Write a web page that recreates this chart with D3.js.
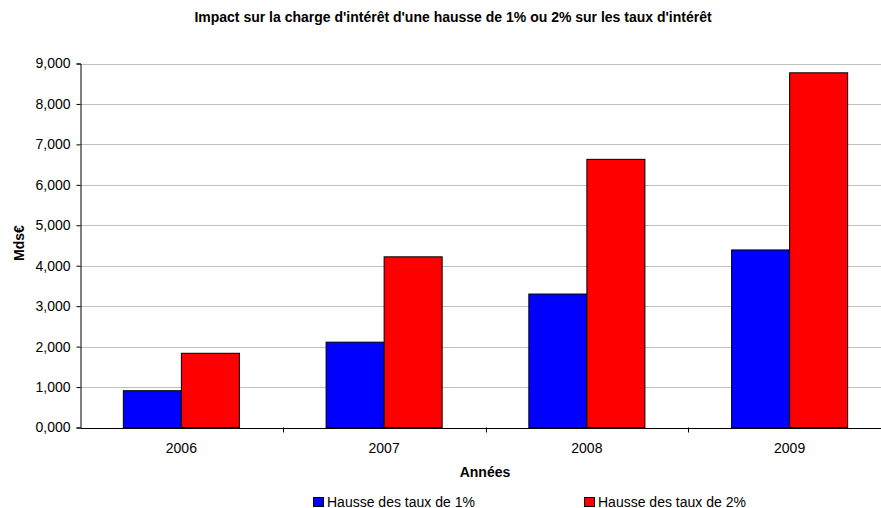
<!DOCTYPE html>
<html><head><meta charset="utf-8">
<script src="https://cdn.jsdelivr.net/npm/d3@7"></script>
<style>
body{margin:0;background:#fff;}
text{font-family:Arial,"Liberation Sans",sans-serif;}
</style></head>
<body><svg id="c" width="881" height="508"></svg>
<script>
const categories = ["2006","2007","2008","2009"];
const seriesNames = ["Hausse des taux de 1%","Hausse des taux de 2%"];
const hausse1 = [0.91, 2.11, 3.30, 4.39];
const hausse2 = [1.835, 4.22, 6.63, 8.77];
const yTicks = [0,1,2,3,4,5,6,7,8,9];
const colors = ["#0000ff","#ff0000"];

const svg = d3.select("#c");
const mLeft = 80, mRight = 891, mTop = 63.5, mBottom = 427.5;
const fr = d3.formatLocale({decimal:",", thousands:" ", grouping:[3], currency:["","€"]});
const fmt = fr.format(".3f");
const FONT = "Arial,'Liberation Sans',sans-serif";

const x = d3.scaleBand().domain(categories).range([mLeft, mRight]).padding(0);
const x1 = d3.scaleBand().domain(seriesNames).range([0, x.bandwidth()]).paddingInner(0).paddingOuter(0.747);
const y = d3.scaleLinear().domain([0, 9]).range([mBottom, mTop]);

// gridlines
svg.append("g").selectAll("line").data(yTicks.slice(1)).join("line")
  .attr("x1", mLeft).attr("x2", mRight)
  .attr("y1", d => Math.round(y(d)) + 0.5).attr("y2", d => Math.round(y(d)) + 0.5)
  .attr("stroke", "#c0c0c0").attr("stroke-width", 1);

// bars
const series = [hausse1, hausse2];
series.forEach((vals, si) => {
  svg.append("g").selectAll("rect").data(categories).join("rect")
    .attr("x", d => x(d) + x1(seriesNames[si]))
    .attr("y", (d, i) => y(vals[i]))
    .attr("width", x1.bandwidth())
    .attr("height", (d, i) => mBottom - y(vals[i]))
    .attr("fill", colors[si]).attr("stroke", "#000").attr("stroke-width", 1);
});

// y axis
const yAxis = d3.axisLeft(y).tickValues(yTicks).tickFormat(fmt).tickSize(4).tickPadding(6);
const gy = svg.append("g").attr("transform", `translate(${mLeft + 0.5},0)`).call(yAxis);
gy.attr("font-size", 14).attr("font-family", FONT);
gy.select(".domain").attr("stroke", "#000");
gy.selectAll(".tick line").attr("stroke", "#000");
gy.selectAll("text").attr("fill", "#000");

// x axis
const xAxis = d3.axisBottom(x).tickSize(0).tickPadding(15);
const gx = svg.append("g").attr("transform", `translate(0,${mBottom + 0.5})`).call(xAxis);
gx.attr("font-size", 14).attr("font-family", FONT);
gx.select(".domain").attr("stroke", "#000");
gx.selectAll("text").attr("fill", "#000");
// boundary ticks between categories
svg.append("g").selectAll("line").data(categories.slice(1)).join("line")
  .attr("x1", d => Math.round(x(d)) + 0.5).attr("x2", d => Math.round(x(d)) + 0.5)
  .attr("y1", mBottom).attr("y2", mBottom + 5).attr("stroke", "#000");

// titles
svg.append("text").attr("x", 453).attr("y", 22).attr("text-anchor", "middle")
  .attr("font-size", 14).attr("font-weight", "bold")
  .text("Impact sur la charge d'intérêt d'une hausse de 1% ou 2% sur les taux d'intérêt");
svg.append("text").attr("x", 485).attr("y", 477).attr("text-anchor", "middle")
  .attr("font-size", 14).attr("font-weight", "bold").text("Années");
svg.append("text").attr("transform", "translate(24,243) rotate(-90)").attr("text-anchor", "middle")
  .attr("font-size", 14).attr("font-weight", "bold").text("Mds€");

// legend
const legX = [313, 584];
seriesNames.forEach((n, i) => {
  svg.append("rect").attr("x", legX[i] + 0.5).attr("y", 497.5).attr("width", 10).attr("height", 9)
    .attr("fill", colors[i]).attr("stroke", "#000");
  svg.append("text").attr("x", legX[i] + 14).attr("y", 506.5).attr("font-size", 14).text(n);
});
</script></body></html>
